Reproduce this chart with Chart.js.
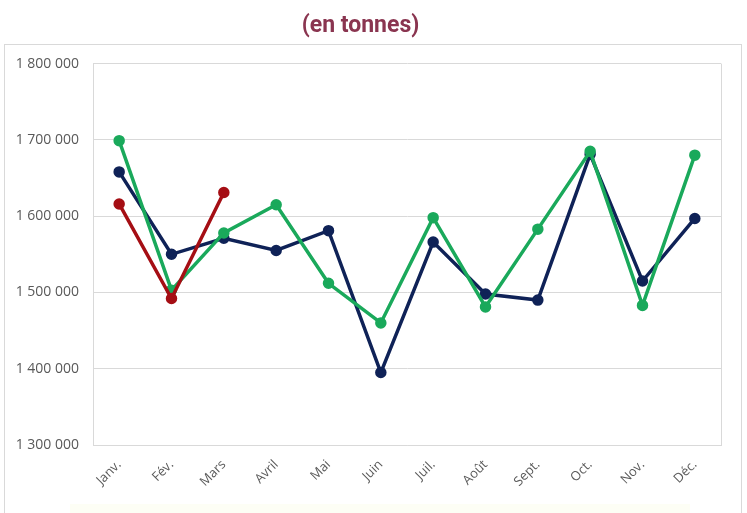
<!DOCTYPE html>
<html lang="fr">
<head>
    <meta charset="UTF-8">
    <title>Production mensuelle (en tonnes)</title>
    <script src="https://cdn.jsdelivr.net/npm/chart.js"></script>
    <style>
        body { margin: 0; background: #fff; overflow: hidden; }
        #frame {
            position: absolute; left: 4px; top: 44px; width: 736px; height: 500px;
            border: 1px solid #d9d9d9;
        }
        #legend-strip {
            position: absolute; left: 70px; top: 504px; width: 620px; height: 12px;
            background: #fdfef5;
        }
        canvas { position: absolute; left: 0; top: 0; }
    </style>
</head>
<body>
    <div id="frame"></div>
    <div id="legend-strip"></div>
    <canvas id="prod-chart" width="747" height="513"></canvas>

    <script>
        // Data
        const months = ['Janv.', 'Fév.', 'Mars', 'Avril', 'Mai', 'Juin', 'Juil.', 'Août', 'Sept.', 'Oct.', 'Nov.', 'Déc.'];
        const serieA = [1658000, 1550000, 1571000, 1555000, 1581000, 1395000, 1566000, 1498000, 1490000, 1681000, 1515000, 1597000];
        const serieB = [1699000, 1503000, 1578000, 1615000, 1512000, 1460000, 1598000, 1481000, 1583000, 1685000, 1483000, 1680000];
        const serieC = [1616000, 1492000, 1631000];
        const yTicks = [1300000, 1400000, 1500000, 1600000, 1700000, 1800000];

        const fmt = v => String(v).replace(/\B(?=(\d{3})+(?!\d))/g, ' ');

        // light frame around the plot area (Excel style)
        const plotFrame = {
            id: 'plotFrame',
            beforeDatasetsDraw(chart) {
                const { ctx, chartArea: a } = chart;
                ctx.save();
                ctx.strokeStyle = '#d9d9d9';
                ctx.lineWidth = 1;
                ctx.beginPath();
                ctx.moveTo(Math.round(a.right) + 0.5, a.top);
                ctx.lineTo(Math.round(a.right) + 0.5, a.bottom);
                ctx.stroke();
                ctx.restore();
            }
        };

        const line = (label, data, color) => ({
            label: label,
            data: data,
            borderColor: color,
            backgroundColor: color,
            borderWidth: 3.5,
            pointRadius: 4,
            pointHoverRadius: 5,
            tension: 0
        });

        const ctx = document.getElementById('prod-chart').getContext('2d');
        new Chart(ctx, {
            type: 'line',
            data: {
                labels: months,
                datasets: [
                    line('Année N', serieC, '#a50e14'),
                    line('Année N-1', serieB, '#1aa95b'),
                    line('Année N-2', serieA, '#0f2257')
                ]
            },
            plugins: [plotFrame],
            options: {
                responsive: false,
                animation: false,
                layout: { padding: { left: 0, right: 26, top: 0, bottom: 0 } },
                plugins: {
                    legend: { display: false },
                    tooltip: { enabled: false },
                    title: {
                        display: true,
                        text: '(en tonnes)',
                        color: '#8a3550',
                        font: { family: 'Roboto', size: 23, weight: 'bold' },
                        padding: { top: 12, bottom: 24 }
                    }
                },
                scales: {
                    x: {
                        offset: true,
                        grid: { display: false },
                        border: { display: true, color: '#d9d9d9' },
                        ticks: {
                            color: '#595959',
                            font: { family: 'Open Sans', size: 13 },
                            minRotation: 45,
                            maxRotation: 45,
                            padding: 4
                        },
                        afterFit: s => { s.height = 68; }
                    },
                    y: {
                        min: 1300000,
                        max: 1800000,
                        grid: { color: '#d9d9d9', drawTicks: false },
                        border: { display: true, color: '#d9d9d9' },
                        afterBuildTicks: s => { s.ticks = yTicks.map(v => ({ value: v })); },
                        ticks: {
                            color: '#595959',
                            font: { family: 'Open Sans', size: 14 },
                            padding: 14,
                            callback: v => fmt(v)
                        },
                        afterFit: s => { s.width = 93; }
                    }
                }
            }
        });
    </script>
</body>
</html>
